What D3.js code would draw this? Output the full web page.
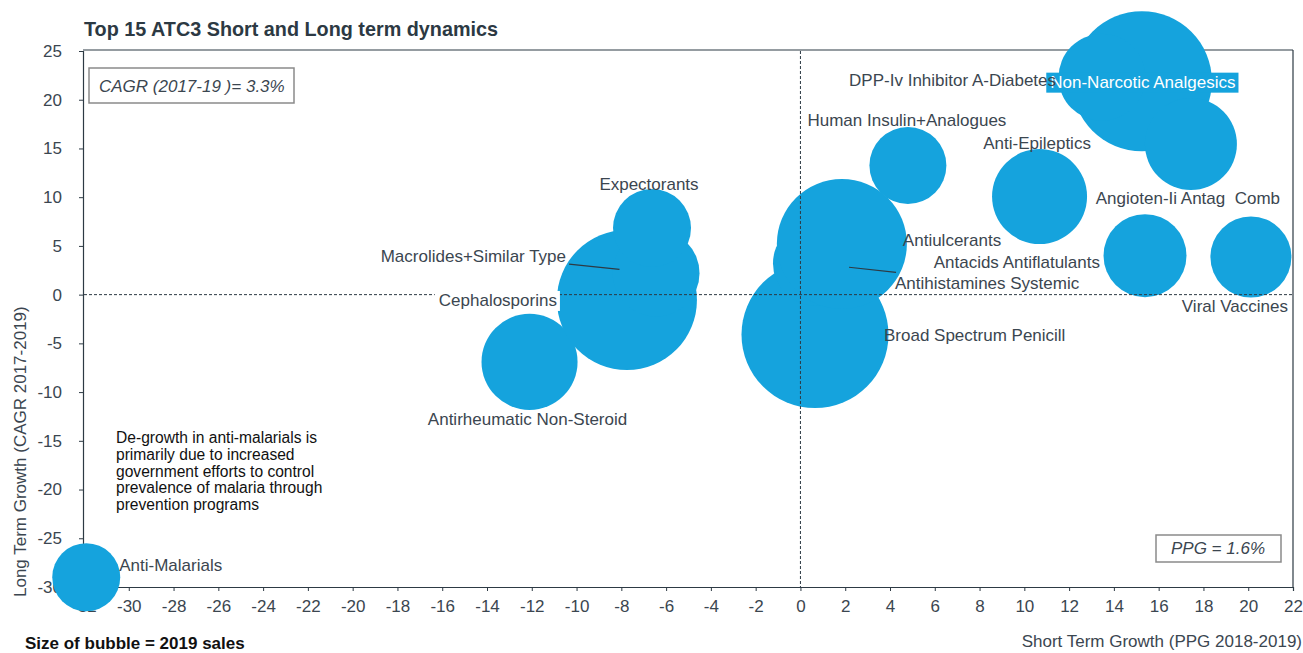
<!DOCTYPE html>
<html>
<head>
<meta charset="utf-8">
<script src="https://cdn.jsdelivr.net/npm/d3@7"></script>
<style>
body { margin: 0; background: #fff; }
svg { font-family: "Liberation Sans", Arial, sans-serif; }
text { white-space: pre; }
</style>
</head>
<body>
<svg></svg>
<script>
// ATC3 classes, short term growth (PPG 2018-19), long term growth (CAGR 2017-19), 2019 sales (relative)
var names = ["Anti-Malarials", "Antirheumatic Non-Steroid", "Cephalosporins", "Macrolides+Similar Type",
  "Expectorants", "Broad Spectrum Penicill", "Antihistamines Systemic", "Antiulcerants",
  "Human Insulin+Analogues", "Anti-Epileptics", "Non-Narcotic Analgesics", "DPP-Iv Inhibitor A-Diabetes",
  "Angioten-Ii Antag  Comb", "Antacids Antiflatulants", "Viral Vaccines"];
var ppg   = [-31.9, -12.1, -7.75, -6.45, -6.63, 0.65, 0.65, 1.85, 4.8, 10.68, 15.25, 13.47, 17.44, 15.39, 20.12];
var cagr  = [-29.0, -6.9, -0.55, 2.2, 6.83, -4.1, 3.2, 5.2, 13.25, 10.07, 21.9, 22.3, 15.45, 4.0, 3.86];
var sales = [23.1, 46.1, 98, 37.8, 30.4, 108, 35.3, 84.5, 29.6, 45.1, 98, 37.8, 42.3, 34.4, 32.8];

var xTicks = d3.range(-32, 23, 2);
var yTicks = d3.range(-30, 26, 5);

// label placement: [anchor, dx, dy] from bubble centre, leader start, box fill
var labelPos = [
  ["start", 33, -12], ["middle", -2, 57], ["end", -70, 0, null, "#fff"], ["end", -90, -17, [-87, -9]],
  ["middle", -3, -44], ["start", 69, 0], ["start", 80, 20, [81, 9]], ["start", 61, -4],
  ["middle", -1, -45.5], ["middle", -2.5, -53.5], ["middle", 1, 0.5, null, "#15a3dd"], ["end", -46, 3],
  ["middle", -3, 54], ["end", -45, 6.5], ["middle", -16, 49]
];

var width = 1303, height = 653;
var plotL = 84, plotR = 1293, plotT = 51, plotB = 587;
var bubbleColor = "#15a3dd";
var ink = "#2d3a44";
var textColor = "#3b4650";

var svg = d3.select("svg").attr("width", width).attr("height", height);

var x = d3.scaleLinear().domain([-32, 22]).range([plotL, plotR]);
var y = d3.scaleLinear().domain([-30, 25]).range([plotB, plotT]);
var r = d3.scaleSqrt().domain([0, 108]).range([0, 73.5]);

// frame
svg.append("line").attr("x1", plotL - 1).attr("x2", plotR).attr("y1", plotT - 1).attr("y2", plotT - 1)
  .attr("stroke", ink).attr("stroke-width", 1.2);
svg.append("line").attr("x1", plotR).attr("x2", plotR).attr("y1", plotT - 1).attr("y2", plotB)
  .attr("stroke", ink).attr("stroke-width", 1.2);

var fmt = function (d) { return String(d); };
var xAxis = svg.append("g").attr("transform", "translate(0," + plotB + ")")
  .call(d3.axisBottom(x).tickValues(xTicks).tickSize(4).tickPadding(9).tickFormat(fmt));
var yAxis = svg.append("g").attr("transform", "translate(" + (plotL - 1) + ",0)")
  .call(d3.axisLeft(y).tickValues(yTicks).tickSize(4).tickPadding(17).tickFormat(fmt));
[xAxis, yAxis].forEach(function (g) {
  g.select(".domain").attr("stroke", ink).attr("stroke-width", 1.2);
  g.selectAll(".tick line").attr("stroke", ink);
  g.selectAll(".tick text").attr("fill", textColor).style("font-size", "17px")
    .style("font-family", "'Liberation Sans', Arial, sans-serif");
});

// title and axis titles
svg.append("text").attr("x", 84).attr("y", 36).text("Top 15 ATC3 Short and Long term dynamics")
  .attr("fill", "#2c3943").style("font-size", "19.8px").style("font-weight", "bold");
svg.append("text").attr("x", 1302).attr("y", 647).attr("text-anchor", "end")
  .text("Short Term Growth (PPG 2018-2019)").attr("fill", textColor).style("font-size", "17px");
svg.append("text").attr("transform", "translate(26,597) rotate(-90)")
  .text("Long Term Growth (CAGR 2017-2019)").attr("fill", textColor).style("font-size", "17px");
svg.append("text").attr("x", 25).attr("y", 649).text("Size of bubble = 2019 sales")
  .attr("fill", "#111").style("font-size", "17px").style("font-weight", "bold");

// CAGR / PPG boxes
svg.append("rect").attr("x", 89).attr("y", 68).attr("width", 205).attr("height", 35)
  .attr("fill", "#fff").attr("stroke", "#8a8a8a").attr("stroke-width", 1.5);
svg.append("text").attr("x", 99).attr("y", 92).text("CAGR (2017-19 )= 3.3%")
  .attr("fill", textColor).style("font-size", "17px").style("font-style", "italic");
svg.append("rect").attr("x", 1156).attr("y", 535).attr("width", 125).attr("height", 27)
  .attr("fill", "#fff").attr("stroke", "#8a8a8a").attr("stroke-width", 1.5);
svg.append("text").attr("x", 1218).attr("y", 554).attr("text-anchor", "middle").text("PPG = 1.6%")
  .attr("fill", textColor).style("font-size", "17px").style("font-style", "italic");

// note
var note = ["De-growth in anti-malarials is", "primarily due to increased",
  "government efforts to control", "prevalence of malaria through", "prevention programs"];
svg.append("g").selectAll("text").data(note).enter().append("text")
  .attr("x", 116).attr("y", function (d, i) { return 443 + i * 16.8; })
  .text(function (d) { return d; }).attr("fill", "#111").style("font-size", "15.6px");

// bubbles
var idx = d3.range(names.length);
svg.append("g").selectAll("circle").data(idx).enter().append("circle")
  .attr("cx", function (i) { return x(ppg[i]); })
  .attr("cy", function (i) { return y(cagr[i]); })
  .attr("r", function (i) { return r(sales[i]); })
  .attr("fill", bubbleColor);

// reference lines at zero
svg.append("line").attr("x1", plotL).attr("x2", plotR).attr("y1", y(0)).attr("y2", y(0))
  .attr("stroke", ink).attr("stroke-dasharray", "3,2");
svg.append("line").attr("x1", x(0)).attr("x2", x(0)).attr("y1", plotT).attr("y2", plotB)
  .attr("stroke", ink).attr("stroke-dasharray", "3,2");

// labels
var labels = svg.append("g");
idx.forEach(function (i) {
  var p = labelPos[i];
  var cx = x(ppg[i]), cy = y(cagr[i]);
  if (p[3]) {
    labels.append("line")
      .attr("x1", cx + p[3][0]).attr("y1", cy + p[3][1])
      .attr("x2", cx + p[3][0] * 0.42).attr("y2", cy + p[3][1] * 0.42)
      .attr("stroke", ink).attr("stroke-width", 1.2);
  }
  var t = labels.append("text")
    .attr("x", cx + p[1]).attr("y", cy + p[2]).attr("dy", "0.35em")
    .attr("text-anchor", p[0]).text(names[i])
    .attr("fill", p[4] === "#15a3dd" ? "#fff" : textColor)
    .style("font-size", "17px");
  if (p[4]) {
    var b = t.node().getBBox();
    labels.insert("rect", function () { return t.node(); })
      .attr("x", b.x - 4).attr("y", b.y).attr("width", b.width + 7).attr("height", b.height + 1)
      .attr("fill", p[4]);
  }
});
</script>
</body>
</html>
